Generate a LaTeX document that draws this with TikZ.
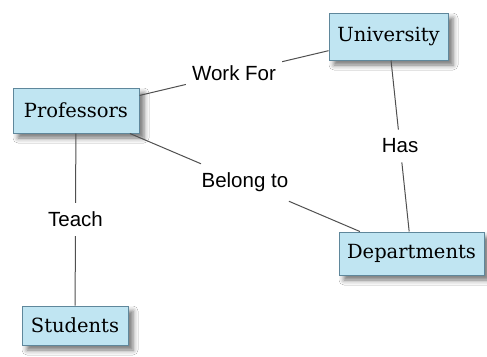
\documentclass[tikz,border=0pt]{standalone}
\usepackage{fontspec}
\setmainfont{Liberation Sans}
\newfontfamily\boxfont{DejaVu Serif}
\usetikzlibrary{shadows.blur}
\definecolor{boxfill}{RGB}{192,229,242}
\definecolor{boxline}{RGB}{95,135,155}
\definecolor{linkcol}{RGB}{80,80,80}
\tikzset{
  concept/.style={draw=boxline, line width=1pt, fill=boxfill, inner sep=0pt,
    font=\boxfont\fontsize{19.5}{22}\selectfont,
    blur shadow={shadow xshift=5pt, shadow yshift=-5pt, shadow blur radius=5pt, shadow opacity=55}},
  lbl/.style={fill=white, inner xsep=6pt, inner ysep=9pt, font=\fontsize{20.5}{22}\selectfont},
  link/.style={draw=linkcol, line width=1pt}
}
\begin{document}
\begin{tikzpicture}[x=1pt,y=-1pt]
\useasboundingbox[fill=white] (0,0) rectangle (487,356);
\node[concept, minimum width=126pt, minimum height=45pt] (prof) at (76,110.5) {Professors};
\node[concept, minimum width=119pt, minimum height=47pt] (univ) at (388.5,36.5) {University};
\node[concept, minimum width=145pt, minimum height=43pt] (dept) at (411.5,253.5) {Departments};
\node[concept, minimum width=106pt, minimum height=39pt] (stud) at (75,325.5) {Students};
\path (prof) -- node[lbl] (wf) {Work For} (univ);
\path (univ) -- node[lbl] (has) {Has} (dept);
\path (prof) -- node[lbl] (bt) {Belong to} (dept);
\path (prof) -- node[lbl] (te) {Teach} (stud);
\draw[link] (prof) -- (wf);
\draw[link] (wf) -- (univ);
\draw[link] (univ) -- (has);
\draw[link] (has) -- (dept);
\draw[link] (prof) -- (bt);
\draw[link] (bt) -- (dept);
\draw[link] (prof) -- (te);
\draw[link] (te) -- (stud);
\end{tikzpicture}
\end{document}
